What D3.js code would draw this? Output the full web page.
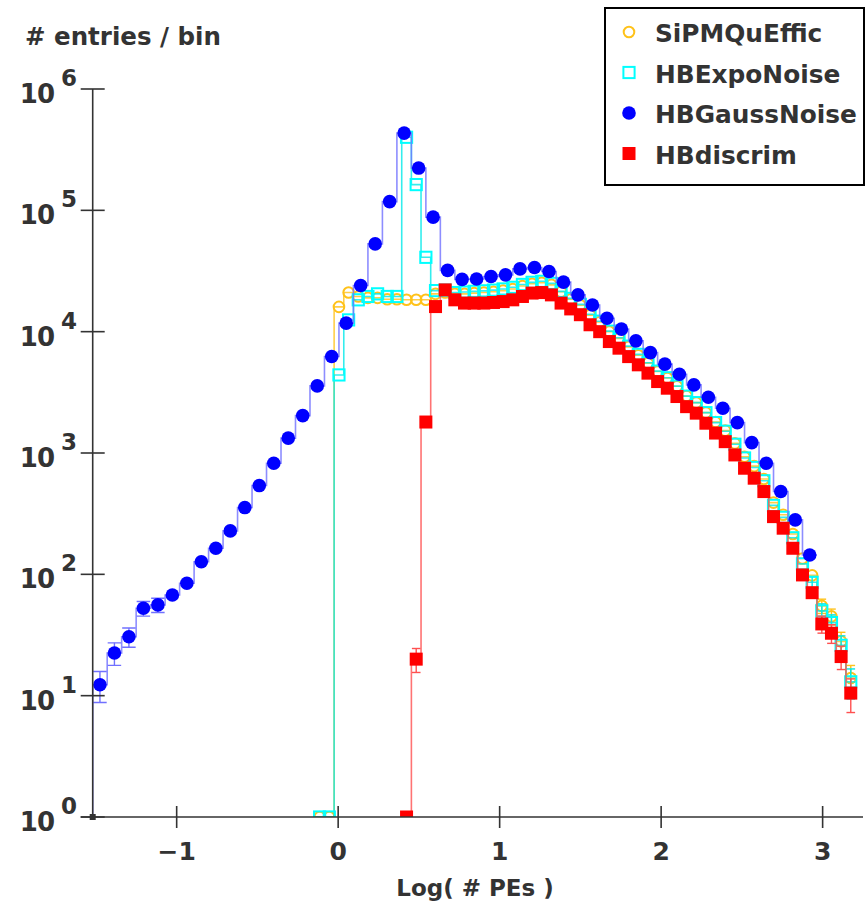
<!DOCTYPE html>
<html><head><meta charset="utf-8">
<script src="https://cdn.jsdelivr.net/npm/d3@7"></script>
<style>body{margin:0;background:#fff}svg{display:block}</style>
</head><body><div id="c"></div>
<script>
// ---- data ----
const binLo = -1.52;           // lower edge of the histogram range
const blueWidth = 0.0897;      // bin width of HBGaussNoise
const fineWidth = 0.0598;      // bin width of the other three histograms
const xTicks = [-1, 0, 1, 2, 3];
const yTickExps = [0, 1, 2, 3, 4, 5, 6];
const seriesNames = ["SiPMQuEffic", "HBExpoNoise", "HBGaussNoise", "HBdiscrim"];

// HBGaussNoise, bins 0..49 of width blueWidth
const gaussStart = 0;
const gaussVals = [12.3, 22.5, 30.6, 52.5, 56, 67.6, 84.5, 127, 164, 228,
  355, 539, 824, 1325, 2033, 3573, 6237, 11750, 24000, 52900,
  118000, 433000, 223000, 87900, 32000, 27000, 27200, 28500, 29400, 32900,
  33800, 31300, 25600, 20100, 16600, 12900, 10490, 8400, 6720, 5400,
  4460, 3640, 2880, 2340, 1780, 1218, 824, 481, 281, 144.5];

// SiPMQuEffic, fine bins starting at index 23
const sipmStart = 23;
const sipmVals = [1, 1, 16000, 21000, 19500, 19000, 19000, 18500, 18500, 18300,
  18300, 18300, 20500, 21000, 20500, 20500, 20800, 21000, 21300, 21800,
  22500, 23800, 24800, 25300, 24300, 21300, 18500, 16500, 13700, 12000,
  10000, 8800, 7500, 6400, 5500, 4700, 4150, 3550, 2950, 2600,
  2150, 1800, 1530, 1200, 930, 780, 610, 390, 310, 215,
  135, 98, 55, 45, 28, 14];

// HBExpoNoise, fine bins starting at index 23
const expoStart = 23;
const expoVals = [1, 1, 4400, 12500, 18300, 19500, 20500, 19500, 19500, 400000,
  163000, 41000, 21800, 22000, 21000, 21200, 21500, 21700, 22000, 22500,
  23200, 24500, 25500, 26000, 25000, 21500, 18800, 16800, 13900, 12200,
  10100, 8900, 7600, 6500, 5550, 4730, 4170, 3560, 2940, 2600,
  2150, 1780, 1510, 1180, 910, 760, 590, 370, 295, 200,
  122, 86, 50, 40, 26, 13];

// HBdiscrim, fine bins starting at index 32
const discStart = 32;
const discVals = [1, 20, 1800, 16100, 22100, 18300, 17200, 17200, 17200, 17400,
  17700, 18300, 19500, 20800, 21000, 20100, 17200, 15400, 13800, 11400,
  10000, 8290, 7310, 6230, 5330, 4550, 3880, 3420, 2920, 2410,
  2130, 1760, 1460, 1240, 964, 749, 620, 481, 299, 240,
  164, 98.9, 70.6, 39, 32.7, 21, 10.5];

// ---- layout ----
const W = 868, H = 905;
const L = 92.7, R = 863, T = 89, B = 817;
const FONT = "'DejaVu Sans', Verdana, sans-serif";
const AX = "#333";

const svg = d3.select("#c").append("svg").attr("width", W).attr("height", H);
const x = d3.scaleLinear().domain([binLo, 3.25]).range([L, R]);
const y = d3.scaleLog().domain([1, 1e6]).range([B, T]);

svg.append("defs").append("clipPath").attr("id", "plot")
  .append("rect").attr("x", L).attr("y", T - 20).attr("width", R - L + 10).attr("height", B - T + 20);

function makeBins(start, width, vals) {
  return vals.map((v, i) => {
    const lo = binLo + (start + i) * width;
    return {lo, hi: lo + width, c: lo + width / 2, v};
  });
}

const series = [
  {name: seriesNames[0], bins: makeBins(sipmStart, fineWidth, sipmVals), line: "#ffc21a", mark: "circleOpen", col: "#ffc21a", size: 5.8},
  {name: seriesNames[1], bins: makeBins(expoStart, fineWidth, expoVals), line: "#00e8e8", mark: "squareOpen", col: "#00ffff", size: 5.6},
  {name: seriesNames[2], bins: makeBins(gaussStart, blueWidth, gaussVals), line: "#7070ff", mark: "circle", col: "#0000ff", size: 6.8},
  {name: seriesNames[3], bins: makeBins(discStart, fineWidth, discVals), line: "#ff5050", mark: "square", col: "#ff0000", size: 6.5}
];

const g = svg.append("g").attr("clip-path", "url(#plot)");

function drawMarker(sel, s, cx, cy) {
  const r = s.size;
  if (s.mark === "circleOpen") {
    sel.append("circle").attr("cx", cx).attr("cy", cy).attr("r", r - 0.5)
      .attr("fill", "none").attr("stroke", s.col).attr("stroke-width", 2);
  } else if (s.mark === "squareOpen") {
    sel.append("rect").attr("x", cx - r).attr("y", cy - r).attr("width", 2 * r).attr("height", 2 * r)
      .attr("fill", "none").attr("stroke", s.col).attr("stroke-width", 2);
  } else if (s.mark === "circle") {
    sel.append("circle").attr("cx", cx).attr("cy", cy).attr("r", r).attr("fill", s.col);
  } else {
    sel.append("rect").attr("x", cx - r).attr("y", cy - r).attr("width", 2 * r).attr("height", 2 * r).attr("fill", s.col);
  }
}

series.forEach(s => {
  const sg = g.append("g");
  // step outline
  const pts = [[x(s.bins[0].lo), y(1)]];
  s.bins.forEach(b => { pts.push([x(b.lo), y(b.v)]); pts.push([x(b.hi), y(b.v)]); });
  sg.append("path").attr("d", d3.line()(pts)).attr("fill", "none")
    .attr("stroke", s.line).attr("stroke-width", 1.6).attr("stroke-opacity", 0.8);
  // error bars (sqrt N)
  s.bins.forEach(b => {
    if (b.v <= 1) return;
    const e = Math.sqrt(b.v);
    const y1 = y(b.v + e), y0 = y(Math.max(b.v - e, 1));
    if (Math.abs(y0 - y1) < 2 * s.size) return;
    const cx = x(b.c);
    sg.append("line").attr("x1", cx).attr("x2", cx).attr("y1", y1).attr("y2", y0)
      .attr("stroke", s.line).attr("stroke-width", 1.4);
    const cw = (x(b.hi) - x(b.lo)) / 2 - 0.5;
    [y1, y0].forEach(yy => sg.append("line").attr("x1", cx - cw).attr("x2", cx + cw)
      .attr("y1", yy).attr("y2", yy).attr("stroke", s.line).attr("stroke-width", 1.4));
  });
  s.bins.forEach(b => drawMarker(sg, s, x(b.c), y(b.v)));
});

// ---- axes ----
const ax = svg.append("g");
ax.append("line").attr("x1", L).attr("x2", L).attr("y1", T).attr("y2", B).attr("stroke", AX).attr("stroke-width", 1.6);
ax.append("line").attr("x1", L - 12).attr("x2", R).attr("y1", B).attr("y2", B).attr("stroke", AX).attr("stroke-width", 1.6);
ax.append("rect").attr("x", L - 3).attr("y", B - 3).attr("width", 6).attr("height", 6).attr("fill", AX);

yTickExps.forEach(p => {
  const yy = y(Math.pow(10, p));
  ax.append("line").attr("x1", L - 12).attr("x2", L + 12).attr("y1", yy).attr("y2", yy).attr("stroke", AX).attr("stroke-width", 1.6);
  ax.append("text").attr("x", 54).attr("y", yy + 14).attr("text-anchor", "end").attr("letter-spacing", -1)
    .attr("font-family", FONT).attr("font-weight", "bold").attr("font-size", 26).attr("fill", AX).text("10");
  ax.append("text").attr("x", 61).attr("y", yy - 3).attr("text-anchor", "start")
    .attr("font-family", FONT).attr("font-weight", "bold").attr("font-size", 23).attr("fill", AX).text(p);
});
xTicks.forEach(t => {
  const xx = x(t);
  ax.append("line").attr("x1", xx).attr("x2", xx).attr("y1", B - 11).attr("y2", B + 11).attr("stroke", AX).attr("stroke-width", 1.6);
  ax.append("text").attr("x", xx).attr("y", B + 43).attr("text-anchor", "middle")
    .attr("font-family", FONT).attr("font-weight", "bold").attr("font-size", 25).attr("fill", AX)
    .text(t < 0 ? "\u2212" + Math.abs(t) : String(t));
});
ax.append("text").attr("x", 25).attr("y", 45).attr("font-family", FONT).attr("font-weight", "bold")
  .attr("font-size", 24.5).attr("fill", AX).text("# entries / bin");
ax.append("text").attr("x", 475).attr("y", 896).attr("text-anchor", "middle").attr("font-family", FONT)
  .attr("font-weight", "bold").attr("font-size", 23).attr("fill", AX).text("Log( # PEs )");

// ---- legend ----
const lg = svg.append("g");
lg.append("rect").attr("x", 605).attr("y", 8).attr("width", 259).attr("height", 177)
  .attr("fill", "#fff").attr("stroke", "#000").attr("stroke-width", 2);
series.forEach((s, i) => {
  const cy = 32 + i * 40.5;
  drawMarker(lg, s, 629, cy);
  lg.append("text").attr("x", 655).attr("y", cy + 10).attr("font-family", FONT).attr("font-weight", "bold")
    .attr("font-size", 24.8).attr("fill", AX).text(s.name);
});
</script>
</body></html>
